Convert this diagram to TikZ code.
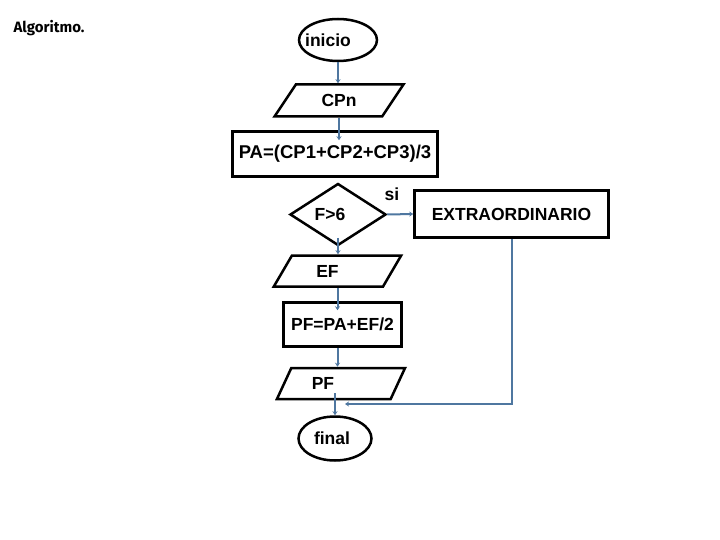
\documentclass[tikz,border=0pt]{standalone}
\usepackage{fontspec}
\setmainfont{Liberation Sans}
\newfontfamily\algfont{Fira Sans}
\usetikzlibrary{shapes.geometric,arrows.meta,calc}
\definecolor{conn}{RGB}{79,119,160}
\begin{document}
\begin{tikzpicture}[x=1pt,y=-1pt,
 box/.style={draw=black,line width=2.5pt,inner sep=0pt,font=\fontsize{17.5}{20}\selectfont\bfseries},
 rectbox/.style={box,rectangle},
 ovalbox/.style={box,ellipse},
 iobox/.style={box,trapezium,trapezium left angle=55,trapezium right angle=125,trapezium stretches=true},
 decbox/.style={box,diamond,aspect=1.5},
 lbl/.style={font=\fontsize{17.5}{20}\selectfont\bfseries,inner sep=0pt},
 flow/.style={draw=conn,line width=2pt,-{Stealth[length=4pt,width=5pt]}}]
\useasboundingbox[fill=white] (0,0) rectangle (720,540);

\node[font=\algfont\fontsize{15}{16}\selectfont\bfseries,inner sep=0pt] (alg) at (49,28) {Algoritmo.};

\node[ovalbox,inner xsep=-12pt,minimum width=78,minimum height=42] (inicio) at (338,40) {inicio\hspace*{20pt}};
\node[iobox,minimum width=129,minimum height=32] (cpn) at (339,100.5) {CPn};
\node[rectbox,minimum width=205,minimum height=45,font=\fontsize{18.5}{20}\selectfont\bfseries] (pa) at (335,154) {PA=(CP1+CP2+CP3)/3};
\node[decbox,minimum width=96,minimum height=62] (dec) at (338,214.5) {F>6\hspace*{16pt}};
\node[lbl] (si) at (392,194) {si};
\node[rectbox,minimum width=194,minimum height=47] (ex) at (511.5,214) {EXTRAORDINARIO};
\node[iobox,minimum width=128,minimum height=31] (ef) at (337.5,271) {EF\hspace*{20pt}};
\node[rectbox,minimum width=118,minimum height=44] (pfc) at (342.5,324.5) {PF=PA+EF/2};
\node[iobox,minimum width=129,minimum height=31] (pfo) at (341,383.5) {PF\hspace*{36pt}};
\node[ovalbox,minimum width=73,minimum height=44] (fin) at (335,438.5) {final\hspace*{6pt}};
\coordinate (j) at (345,404);

\draw[flow] (inicio.south) -- (inicio.south |- cpn.north);
\draw[flow] (cpn.south) -- ($(cpn.south |- pa.north)+(0,10)$);
\draw[flow] (dec.east) -- (ex.west);
\draw[flow] ($(dec.south)+(0,-9)$) -- (dec.south |- ef.north);
\draw[flow] (ef.south) -- ($(ef.south |- pfc.north)+(0,9)$);
\draw[flow] (pfc.south -| ef.south) -- (pfo.north -| ef.south);
\draw[flow] ($(fin.north |- pfo.south)+(0,-7)$) -- (fin.north);
\draw[flow] (ex.south) |- (j);
\end{tikzpicture}
\end{document}
